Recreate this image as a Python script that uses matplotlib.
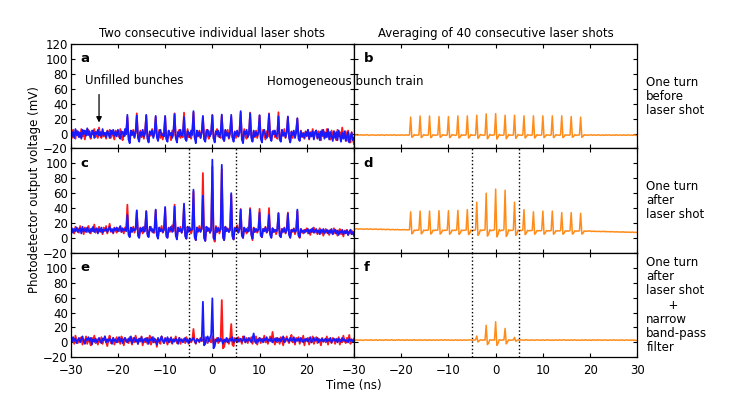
import numpy as np
import matplotlib
matplotlib.use("Agg")
from matplotlib import pyplot as plt

plt.rcParams['font.family'] = ['DejaVu Sans']

# time axis, 0.25 ns sampling (each row below = 2 ns)
t = np.linspace(-30, 30, 241)

# --- individual shots (mV) ---
red_a = [3, -6, 5, -2, -7, 4, -3, 2,
         -5, 6, -4, 1, -8, 3, -2, 5,
         -3, -7, 4, -1, 6, -5, 2, -6,
         8, -2, -6, 3, -4, 1, -7, 4,
         -2, 5, -6, 2, -3, -8, 4, -1,
         3, -5, 6, -4, -9, 2, -3, 1,
         22, -4, -9, 3, -2, 5, -6, 1,
         27, -3, -8, 4, -5, 2, -7, 3,
         24, -5, -10, 2, -3, 6, -4, 0,
         22, -2, -9, 5, -6, 1, -8, 2,
         23, -6, -7, 3, -2, -9, 4, -3,
         27, -4, -10, 2, 5, -6, 0, -5,
         28, -3, -8, 6, -5, 1, -7, 3,
         28, -5, -9, 3, -4, 4, -6, 2,
         22, -2, -8, 5, -3, -7, 3, -1,
         25, -6, -9, 2, 6, -4, 1, -6,
         24, -3, -10, 4, -2, 5, -7, 0,
         22, -5, -8, 3, -6, 2, -4, 4,
         28, -4, -9, 6, -3, -7, 2, -2,
         28, -2, -10, 3, -5, 4, -6, 1,
         24, -6, -7, 5, -2, -8, 3, -4,
         27, -3, -9, 2, 4, -5, -1, -7,
         28.5, -5, -8, 4, -3, 6, -6, 1,
         22, -4, -10, 3, -6, 2, -2, 5,
         20, -3, -9, 4, -5, 1, -7, 3,
         -4, 5, -8, 2, -3, 6, -6, 0,
         4, -7, 3, -2, -9, 5, -4, 2,
         -5, 6, -3, 1, -8, 4, -6, 3,
         -2, -9, 5, -4, 2, -7, 8, -3,
         -6, 3, -10, 4, -5, -12, 2, -8,
         -14]
blue_a = [7, -4, 2, -6, 6, -2, 3, -5,
          1, -7, 5, -1, 4, -3, 7, -2,
          3, -5, 0, 4, -6, 2, -1, 5,
          -3, 2, -4, 6, -2, 1, -5, 3,
          0, -6, 4, -1, 5, -3, 2, -4,
          5, -2, -7, 3, 1, -4, 6, -1,
          25, -8, -13, 4, -2, 3, -5, 2,
          24, -6, -11, 2, -3, 5, -4, 0,
          25, -7, -12, 3, -1, 4, -6, 1,
          23.6, -5, -10, 2, 5, -3, -1, -4,
          23.5, -8, -11, 4, -2, 1, -6, 3,
          26, -6, -12, 2, -4, 5, -3, 0,
          22, -7, -10, 3, 1, -5, 4, -2,
          30, -5, -13, 4, -3, 2, -6, 1,
          23.6, -8, -11, 2, 5, -2, -4, 3,
          24.5, -6, -12, 3, -1, 4, -5, 0,
          25.4, -7, -10, 5, -3, 1, -6, 2,
          25, -5, -11, 2, -2, 4, -4, 1,
          30, -8, -13, 3, -1, 5, -5, 0,
          27, -6, -11, 4, -4, 2, -3, 1,
          24.5, -7, -12, 2, 5, -2, -6, 3,
          26, -5, -10, 3, -1, 4, -4, 0,
          23, -8, -11, 5, -3, 1, -5, 2,
          22.8, -6, -12, 2, -2, 4, -6, 1,
          20.5, -7, -10, 3, -4, 0, -6, 2,
          -3, 5, -7, 1, -4, 3, -8, 2,
          4, -6, 0, -9, 3, -3, 5, -7,
          1, -5, 6, -8, 2, -4, -10, 3,
          -6, 2, -9, 4, -3, -11, 1, -7,
          3, -10, -4, 2, -12, -5, 1, -9,
          -6]
red_c = [14, 8, 12, 6, 15, 10, 13, 7,
         16, 9, 12, 5, 14, 11, 8, 16,
         10, 6, 13, 9, 18, 7, 12, 10,
         15, 8, 11, 5, 14, 9, 16, 6,
         12, 19, 8, 11, 6, 14, 10, 7,
         13, 9, 15, 8, 12, 6, 14, 10,
         44.6, 8, 3, 13, 9, 15, 7, 12,
         36, 7, 2, 14, 10, 6, 15, 9,
         36, 6, 3, 12, 15, 8, 11, 7,
         37, 8, 2, 13, 9, 16, 7, 11,
         40, 5, 1, 14, 8, 12, 17, 9,
         44.6, 6, 0, 13, 10, 15, 7, 12,
         44, 5, -1, 15, 9, 13, 6, 11,
         62, 4, -3, 14, 8, 16, 9, 12,
         87, 2, -4, 15, 9, 13, 7, 11,
         96, 1, -5, 16, 8, 14, 6, 12,
         92, 2, -3, 15, 10, 13, 8, 11,
         58, 4, -2, 14, 9, 17, 7, 12,
         38.8, 5, 0, 13, 10, 6, 14, 9,
         40, 6, -3, 14, 8, 12, 7, 11,
         39, 5, 1, 12, 9, 15, 7, 10,
         40, 6, 2, 13, 8, 11, 5, 10,
         33.5, 7, 1, 12, 9, 14, 6, 11,
         34, 6, 2, 11, 8, 13, 5, 10,
         36, 5, 0, 12, 9, 6, 11, 8,
         13, 6, 10, 4, 12, 8, 14, 7,
         11, 5, 9, 13, 6, 10, 3, 9,
         12, 7, 10, 4, 11, 8, 5, 13,
         6, 10, 3, 9, 12, 5, 8, 2,
         10, 7, 11, 4, 9, 6, 10, 5,
         8]
blue_c = [10, 13, 7, 12, 9, 14, 8, 11,
          13, 6, 15, 9, 12, 8, 14, 10,
          7, 12, 9, 15, 8, 11, 13, 6,
          12, 9, 14, 7, 11, 10, 13, 8,
          11, 15, 9, 12, 7, 13, 10, 14,
          9, 12, 16, 8, 13, 10, 12, 9,
          31, 4, 1, 14, 8, 13, 10, 12,
          37, 3, 0, 13, 9, 14, 8, 12,
          35.7, 4, 1, 15, 10, 12, 7, 13,
          38, 3, -1, 14, 9, 12, 8, 11,
          41.5, 2, 0, 13, 10, 15, 8, 12,
          42, 3, -2, 14, 9, 12, 7, 13,
          46, 2, -1, 15, 8, 13, 10, 12,
          64.7, 1, -3, 14, 9, 12, 8, 13,
          56.7, 0, -4, 15, 10, 13, 7, 12,
          104.9, 0, -2, 14, 8, 13, 9, 12,
          98, 1, -3, 15, 9, 12, 8, 11,
          60, 2, -2, 13, 10, 14, 7, 12,
          38, 3, 0, 14, 9, 12, 8, 11,
          38, 4, -1, 13, 8, 12, 9, 11,
          34, 3, 1, 12, 9, 14, 8, 10,
          31, 4, 0, 13, 8, 11, 9, 12,
          33, 3, 1, 12, 8, 13, 7, 10,
          32.6, 4, 0, 11, 9, 12, 8, 10,
          38, 3, 1, 12, 8, 10, 7, 11,
          9, 12, 6, 11, 8, 13, 7, 10,
          12, 7, 10, 5, 11, 8, 12, 6,
          9, 11, 6, 10, 7, 12, 5, 9,
          11, 6, 10, 4, 9, 7, 11, 5,
          9, 6, 10, 4, 8, 11, 5, 8,
          3]
red_e = [8, 1, 6, -2, 9, 3, -1, 5,
         2, 7, -3, 4, 0, 8, -2, 5,
         1, -4, 6, 2, 9, -1, 4, -3,
         5, 0, 7, -2, 3, 8, 1, -5,
         4, 9, -1, 3, 6, -3, 2, 7,
         0, 5, -2, 8, 3, -4, 6, 1,
         4, -1, 7, 2, -3, 6, 0, 9,
         3, -2, 5, 1, 8, -4, 4, 0,
         6, -2, 3, 9, -3, 2, 7, 0,
         4, -6, 5, 1, -2, 8, 3, -1,
         6, 1, -3, 5, 0, 7, -2, 4,
         2, 8, -1, 3, 6, -2, 4, 1,
         5, -1, 7, 2, -2, 4, 0, 3,
         18, 1, -2, 5, 3, 0, 6, 2,
         4, 0, 7, 2, -1, 5, 3, 0,
         8, -2, 4, 1, 6, -1, 3, 2,
         56.7, -8, -6, 3, 1, 5, -2, 4,
         24.5, -3, -5, 6, 2, 0, 7, 1,
         4, -2, 8, 3, 0, 6, -1, 5,
         2, 7, -2, 4, 1, 8, -3, 3,
         6, -1, 5, 2, 9, 0, 4, -2,
         3, 8, 1, 14, 2, -3, 6, 0,
         5, -2, 7, 3, -4, 6, 1, 8,
         2, -1, 5, 10, 0, 4, -3, 6,
         3, 7, -2, 4, 1, 9, -4, 5,
         2, 6, -3, 4, 0, 8, -2, 3,
         7, -1, 5, 2, -4, 6, 1, 4,
         0, 8, -3, 5, 2, -1, 6, 3,
         -2, 5, 1, 7, -3, 4, 0, 9,
         2, -1, 6, 3, 10, -2, 4, 1,
         5]
blue_e = [4, 1, 7, 2, 5, -1, 3, 6,
          0, 4, 8, 1, -2, 5, 3, 7,
          2, 6, -3, 4, 1, 5, 0, 3,
          6, 2, -1, 5, 3, 8, 0, 4,
          1, 5, 3, -2, 6, 2, 4, 0,
          3, 7, 1, 5, -1, 4, 6, 2,
          0, 5, 2, 8, -1, 3, 6, 1,
          4, -2, 5, 2, 7, 0, 3, 5,
          1, 6, -2, 4, 3, 7, 0, 5,
          2, -3, 6, 1, 4, 8, 2, -1,
          5, 2, 7, 0, 3, 6, -1, 4,
          1, 5, 3, -2, 6, 2, 4, 0,
          3, 6, 1, 4, -1, 5, 2, 4,
          6, 2, -1, 4, 3, 1, 5, 2,
          54.4, -4, -2, 5, 8, 1, 6, 10,
          59, -8, -5, 4, 2, 6, 1, 5,
          3, -2, 4, 1, 6, 0, 3, 5,
          2, 7, 0, 4, 3, 6, 1, 4,
          5, 1, 3, 8, 0, 4, 2, 6,
          3, 0, 5, 12, 2, -1, 4, 1,
          6, 2, 4, 0, 5, 3, 7, 1,
          4, 2, 6, 0, 3, 5, 1, 6,
          2, 5, 1, 4, 8, 0, 3, 5,
          4, 1, 6, 2, 3, 7, 0, 4,
          2, 5, 1, 6, 3, 0, 4, 2,
          5, 1, 4, 7, 0, 3, 6, 2,
          3, 6, 0, 4, 2, 5, 1, 3,
          5, 1, 4, 2, 6, 0, 3, 5,
          2, 4, 0, 5, 3, 1, 6, 2,
          4, 1, 3, 0, 5, 2, 4, 1,
          3]

# --- averages of 40 shots (mV) ---
avg_b = [-1.5, -2, -1.8, -2.3, -1.9, -2.2, -1.6, -2,
         -2.4, -1.8, -2.1, -1.5, -2.2, -2.6, -1.9, -2.1,
         -1.7, -2.3, -2, -2.5, -1.8, -2, -2.4, -1.6,
         -2.2, -1.9, -2.5, -2, -1.7, -2.3, -2.1, -1.8,
         -2.4, -2, -1.6, -2.2, -2.5, -1.9, -2.1, -2.3,
         -1.8, -2.2, -2, -2.4, -1.7, -2.1, -2.3, -1.9,
         22, -5, -4, -1.5, -2.5, -2, -2.3, -1.8,
         23.5, -5.5, -4, -1.5, -2.3, -2, -2.4, -1.8,
         23.5, -5.5, -4, -1.6, -2.2, -2.4, -1.9, -2,
         22.7, -5, -4.2, -1.5, -2.3, -2.1, -2.5, -1.8,
         22.7, -5.5, -4, -1.4, -2.2, -2, -2.4, -1.9,
         23.6, -6, -4.5, -1.5, -2.5, -2, -2.2, -1.7,
         23.6, -6, -4.3, -1.4, -2.3, -2.1, -2.4, -1.9,
         24.5, -6.5, -4.5, -1.3, -2.2, -2, -2.5, -1.8,
         26.3, -7, -5, -1.2, -2.4, -2, -2.3, -1.7,
         26.8, -7.5, -5, -1.2, -2.3, -2.1, -2.4, -1.8,
         24.5, -7, -4.8, -1.3, -2.5, -2, -2.2, -1.9,
         24.5, -6.5, -4.5, -1.4, -2.3, -2.1, -2.4, -1.8,
         23.7, -6, -4.3, -1.5, -2.2, -2, -2.5, -1.9,
         23.7, -6, -4.2, -1.5, -2.4, -2.1, -2.3, -1.8,
         23.7, -5.5, -4, -1.6, -2.2, -2, -2.4, -1.9,
         23.7, -5.5, -4, -1.5, -2.3, -2.1, -2.5, -1.8,
         23.7, -5.5, -4.1, -1.6, -2.2, -2, -2.3, -1.9,
         22.8, -5, -4, -1.5, -2.4, -2.1, -2.2, -1.8,
         21.9, -5, -3.8, -1.6, -2.3, -2, -2.4, -1.9,
         -2.1, -1.7, -2.4, -2, -1.8, -2.3, -2.2, -1.6,
         -2.2, -2.5, -1.9, -2.1, -2.4, -1.7, -2.3, -2,
         -1.8, -2.2, -2.5, -1.9, -2.1, -2.4, -1.6, -2.2,
         -2.3, -1.9, -2.1, -2.5, -1.8, -2.2, -2, -2.4,
         -1.7, -2.1, -2.3, -1.9, -2.4, -2.2, -1.8, -2.6,
         -2.8]
avg_d = [12.2, 11.8, 12.4, 12, 11.7, 12.3, 11.9, 12.1,
         11.6, 12, 11.8, 12.3, 11.5, 11.9, 12.1, 11.7,
         11.4, 11.9, 11.6, 12, 11.3, 11.7, 11.5, 11.9,
         11.2, 11.6, 11.4, 11, 11.7, 11.3, 11.5, 10.9,
         11.2, 11.5, 10.8, 11.3, 11, 11.4, 10.9, 11.1,
         10.7, 11.2, 10.9, 11.3, 10.6, 11, 10.8, 11.1,
         35, 5.5, 7, 10.5, 9.8, 10.6, 10.2, 10.8,
         36, 5.5, 7, 10.6, 9.9, 10.5, 10.1, 10.8,
         36, 5.2, 6.8, 10.5, 9.8, 10.7, 10.2, 10.6,
         36.5, 5.2, 6.8, 10.6, 9.7, 10.5, 10.1, 10.7,
         36.5, 5, 6.5, 10.5, 9.8, 10.6, 10, 10.8,
         37, 4.8, 6.5, 10.6, 9.9, 10.4, 10.2, 10.7,
         38, 4.5, 6.2, 10.5, 9.7, 10.6, 10.1, 11,
         48, 3.5, 5.5, 10.8, 9.8, 10.6, 10.2, 11,
         60, 2.5, 5, 11, 9.5, 10.5, 10, 11.2,
         65.5, 1.5, 4.5, 11.2, 9.4, 10.6, 10, 11.2,
         64, 2, 4.8, 11, 9.6, 10.4, 10.1, 11,
         48, 3.5, 5.5, 10.6, 9.5, 10.3, 9.8, 10.6,
         38, 4.5, 6.2, 10.2, 9.4, 10.1, 9.7, 10.3,
         35, 5, 6.5, 10, 9.3, 9.9, 9.5, 10.2,
         36, 5, 6.5, 9.9, 9.2, 9.8, 9.4, 10,
         36, 5, 6.4, 9.8, 9.1, 9.7, 9.3, 9.9,
         34, 5, 6.3, 9.7, 9, 9.6, 9.2, 9.8,
         34, 5.2, 6.3, 9.6, 8.9, 9.5, 9.1, 9.7,
         33, 5.2, 6.2, 9.4, 8.8, 9.3, 8.9, 9.5,
         9.4, 8.6, 9.1, 8.7, 9.2, 8.5, 8.9, 8.6,
         8.9, 8.4, 8.8, 8.5, 9, 8.2, 8.6, 8.3,
         8.5, 8.1, 8.6, 8.2, 8.4, 7.9, 8.3, 8,
         8.2, 7.8, 8.1, 7.7, 8.3, 7.6, 8, 7.7,
         7.9, 7.5, 7.8, 7.4, 8, 7.3, 7.6, 7.5,
         7.2]
avg_f = [3.2, 2.8, 3.4, 3, 2.7, 3.3, 2.9, 3.1,
         2.6, 3.2, 3.5, 2.9, 3.1, 2.7, 3.6, 3,
         2.8, 3.3, 2.9, 3.5, 2.6, 3.1, 3.4, 2.8,
         3.2, 2.7, 3.1, 3.6, 2.9, 3.3, 2.8, 3.2,
         3.5, 2.9, 3.1, 2.7, 3.3, 3, 3.6, 2.8,
         3.1, 3.4, 2.7, 3.2, 2.9, 3.5, 3, 2.8,
         3.3, 2.9, 3.1, 3.6, 2.8, 3.2, 2.7, 3.4,
         3, 3.3, 2.8, 3.1, 3.5, 2.9, 3.2, 2.7,
         3.6, 3, 2.8, 3.3, 3.1, 2.7, 3.4, 3,
         2.9, 3.2, 3.5, 2.8, 3.1, 3.6, 2.9, 3.2,
         3.4, 2.8, 3.1, 3.3, 2.7, 3, 3.5, 2.9,
         3.2, 2.7, 3.4, 3, 2.8, 3.3, 3.1, 2.9,
         3.3, 2.9, 3.6, 3.1, 2.8, 3.2, 3, 3.4,
         8.5, 0.5, 2, 3.5, 3.1, 2.8, 3.4, 3,
         22.8, -3, -1, 3.5, 3.2, 2.9, 3.3, 3,
         27.7, -4, -1.5, 3.6, 3.1, 2.8, 3.4, 3.1,
         18.7, -2, 0.5, 3.4, 3, 2.8, 3.2, 3.3,
         6.7, 1.5, 2.5, 3.3, 2.9, 3.4, 3, 3.2,
         2.8, 3.3, 3.6, 2.9, 3.1, 2.7, 3.4, 3,
         3.2, 2.8, 3.1, 3.5, 2.9, 3.3, 2.7, 3.1,
         3.4, 3, 2.8, 3.2, 3.6, 2.9, 3.1, 2.8,
         3.3, 2.7, 3.1, 3.4, 3, 2.8, 3.5, 3.1,
         2.9, 3.2, 3.6, 3, 2.7, 3.3, 3.1, 2.8,
         3.4, 3, 2.9, 3.5, 3.1, 2.7, 3.2, 3,
         2.8, 3.3, 3.1, 2.9, 3.6, 3, 2.8, 3.2,
         3.1, 2.7, 3.4, 3, 3.2, 2.8, 3.5, 2.9,
         3.3, 3, 2.8, 3.2, 2.9, 3.4, 3.1, 2.7,
         3, 3.3, 2.9, 3.1, 3.5, 2.8, 3.2, 3,
         2.9, 3.2, 2.8, 3.4, 3, 2.7, 3.1, 3.3,
         3, 2.8, 3.2, 2.9, 3.1, 2.7, 3, 2.6,
         2.4]

panel_letters = ['a', 'b', 'c', 'd', 'e', 'f']
col_titles = ['Two consecutive individual laser shots',
              'Averaging of 40 consecutive laser shots']
row_labels = ['One turn\nbefore\nlaser shot',
              'One turn\nafter\nlaser shot',
              'One turn\nafter\nlaser shot\n      +\nnarrow\nband-pass\nfilter']

RED = '#ff1a1a'
BLUE = '#1a1aff'
ORANGE = '#ff8c1a'
FS = 8.5

W, H = 731, 396
fig = plt.figure(figsize=(W / 100, H / 100), dpi=100)

x0 = [70.7 / W, 354.0 / W]
aw = 283.3 / W
top_px, row_px = 44.0, 104.43
axes = []
for r in range(3):
    row = []
    for c in range(2):
        b = 1 - (top_px + (r + 1) * row_px) / H
        ax = fig.add_axes([x0[c], b, aw, row_px / H])
        ax.set_xlim(-30, 30)
        ax.set_ylim(-20, 120)
        ax.set_xticks(np.arange(-30, 31, 10))
        ax.set_yticks(np.arange(-20, 121, 20))
        ax.tick_params(direction='in', top=True, right=True, length=3,
                       width=0.8, labelsize=FS)
        ax.tick_params(axis='x', pad=4.5)
        ax.tick_params(axis='y', pad=2)
        for s in ax.spines.values():
            s.set_linewidth(0.9)
        row.append(ax)
    axes.append(row)

left = [axes[0][0], axes[1][0], axes[2][0]]
right = [axes[0][1], axes[1][1], axes[2][1]]

for ax, (rv, bv) in zip(left, [(red_a, blue_a), (red_c, blue_c), (red_e, blue_e)]):
    ax.plot(t, rv, color=RED, lw=1.3)
    ax.plot(t, bv, color=BLUE, lw=1.3)
for ax, av in zip(right, [avg_b, avg_d, avg_f]):
    ax.plot(t, av, color=ORANGE, lw=1.1)

# tick label visibility
for r in range(3):
    for c in range(2):
        ax = axes[r][c]
        if c == 1:
            ax.tick_params(labelleft=False)
        if r < 2:
            ax.tick_params(labelbottom=False)
        if c == 0 and r > 0:
            ax.yaxis.get_major_ticks()[-1].label1.set_visible(False)
axes[2][0].xaxis.get_major_ticks()[-1].label1.set_visible(False)

# dotted markers at +-5 ns
for r in (1, 2):
    for c in range(2):
        for xv in (-5, 5):
            axes[r][c].axvline(xv, color='k', ls=':', lw=1.0)

for ax, letter in zip([axes[r][c] for r in range(3) for c in range(2)], panel_letters):
    ax.text(-28, 100, letter, fontsize=9.5, fontweight='bold', va='center', ha='left')

for c in range(2):
    axes[0][c].set_title(col_titles[c], fontsize=FS, pad=5)

for r in range(3):
    axes[r][1].text(1.032, 0.5, row_labels[r], transform=axes[r][1].transAxes,
                    fontsize=FS, va='center', ha='left', linespacing=1.12)

axes[0][0].text(-27, 70.5, 'Unfilled bunches', fontsize=FS, va='center', ha='left')
axes[0][0].annotate('', xy=(-24, 11), xytext=(-24, 56),
                    arrowprops=dict(arrowstyle='-|>', color='k', lw=0.9,
                                    mutation_scale=8))
# label straddles both columns, so place it in figure coordinates
hx = (x0[0] * W + (11.5 + 30) / 60 * 283.3) / W
fig.text(hx, 1 - 81 / H, 'Homogeneous bunch train', fontsize=FS,
         va='center', ha='left')

fig.text(35 / W, 1 - 190 / H, 'Photodetector output voltage (mV)', fontsize=FS,
         rotation=90, va='center', ha='center')
fig.text(354 / W, 1 - 385 / H, 'Time (ns)', fontsize=FS, va='center', ha='center')

fig.savefig('out.png', dpi=100)
